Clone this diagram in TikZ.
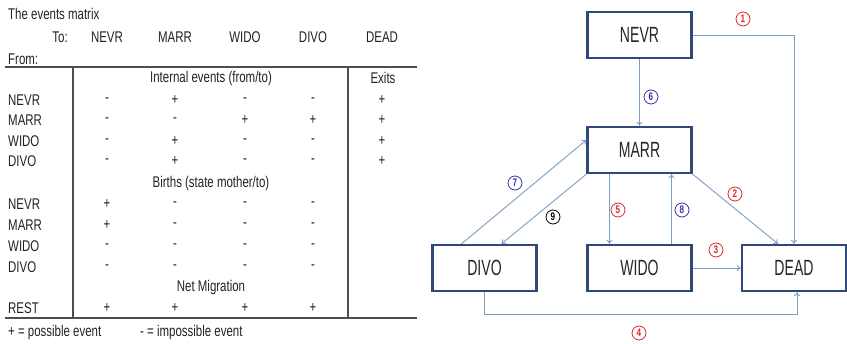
\documentclass[tikz,border=0pt]{standalone}
\usepackage{fontspec}
\setmainfont{Liberation Sans}[FakeStretch=0.74]
\newfontfamily\boxfont{Liberation Sans}[FakeStretch=0.64]
\usepackage{xcolor}
\usepackage{tikz}
\usetikzlibrary{arrows.meta, positioning}

\definecolor{boxline}{HTML}{2F4A78}
\definecolor{arrline}{HTML}{7C9CC6}
\definecolor{numred}{HTML}{E02828}
\definecolor{numblue}{HTML}{3434A8}
\definecolor{tabtext}{HTML}{222222}

\begin{document}
\begin{tikzpicture}[x=1pt, y=-1pt,
    txt/.style={font=\fontsize{15.5}{15.5}\selectfont, text=tabtext, inner sep=0pt},
    cell/.style={txt},
    rule/.style={draw=tabtext!80, line width=1.3pt},
    statebox/.style={draw=boxline, line width=2.3pt, fill=white,
        minimum width=104pt, minimum height=46pt,
        font=\boxfont\fontsize{22}{22}\selectfont, text=black!85},
    arr/.style={draw=arrline, line width=0.9pt, -{To[length=4pt, width=6pt]}},
    num/.style={circle, draw, line width=0.8pt, inner sep=0pt, minimum size=14pt,
        font=\fontsize{11}{11}\selectfont\bfseries}]
    \useasboundingbox (0,0) rectangle (847,344);

    % The events matrix
    \node[txt, anchor=west] (title) at (8,14) {The events matrix};
    \node[txt, anchor=east] (to) at (68,37) {To:};
    \node[txt, anchor=west] (from) at (8,59) {From:};
    \node[txt] (hNEVR) at (107,37) {NEVR};
    \node[txt] (hMARR) at (175,37) {MARR};
    \node[txt] (hWIDO) at (245,37) {WIDO};
    \node[txt] (hDIVO) at (313,37) {DIVO};
    \node[txt] (hDEAD) at (382,37) {DEAD};

    % Rules
    \draw[rule] (5,67) -- (417,67);
    \draw[rule] (5,318) -- (417,318);
    \draw[rule] (73,67) -- (73,318);
    \draw[rule] (348,67) -- (348,318);

    % Internal events
    \node[txt] (internal) at (211,78) {Internal events (from/to)};
    \node[txt] (exits) at (383,78) {Exits};
    \foreach \r/\y/\a/\b/\c/\d/\e in {NEVR/100/-/+/-/-/+, MARR/120/-/-/+/+/+,
        WIDO/141/-/+/-/-/+, DIVO/161/-/+/-/-/+} {
        \node[txt, anchor=west] (in-\r) at (8,\y) {\r};
        \node[cell] (in-\r-1) at (107,\y) {\a};
        \node[cell] (in-\r-2) at (175,\y) {\b};
        \node[cell] (in-\r-3) at (245,\y) {\c};
        \node[cell] (in-\r-4) at (313,\y) {\d};
        \node[cell] (in-\r-5) at (382,\y) {\e};
    }

    % Births
    \node[txt] (births) at (211,183) {Births (state mother/to)};
    \foreach \r/\y/\a/\b/\c/\d in {NEVR/204/+/-/-/-, MARR/225/+/-/-/-,
        WIDO/246/-/-/-/-, DIVO/267/-/-/-/-} {
        \node[txt, anchor=west] (bi-\r) at (8,\y) {\r};
        \node[cell] (bi-\r-1) at (107,\y) {\a};
        \node[cell] (bi-\r-2) at (175,\y) {\b};
        \node[cell] (bi-\r-3) at (245,\y) {\c};
        \node[cell] (bi-\r-4) at (313,\y) {\d};
    }

    % Net migration
    \node[txt] (netmig) at (211,287) {Net Migration};
    \node[txt, anchor=west] (rest) at (8,308) {REST};
    \foreach \x [count=\k] in {107,175,245,313}
        \node[cell] (rest-\k) at (\x,308) {+};

    % Legend
    \node[txt, anchor=west] (plus) at (8,332) {+ = possible event};
    \node[txt, anchor=west] (minus) at (140,332) {- = impossible event};

    % States
    \node[statebox] (NEVR) at (639.5,35) {NEVR};
    \node[statebox] (MARR) at (639.5,150) {MARR};
    \node[statebox] (DIVO) at (484.5,268) {DIVO};
    \node[statebox] (WIDO) at (639.5,268) {WIDO};
    \node[statebox] (DEAD) at (794,268) {DEAD};

    % Transitions
    \draw[arr] (NEVR.east) -| (DEAD.north);
    \draw[arr] (NEVR.south) -- (MARR.north);
    \draw[arr] ([xshift=-23pt]DIVO.north) -- ([yshift=10pt]MARR.west);
    \draw[arr] (MARR.south west) -- ([xshift=17pt]DIVO.north);
    \draw[arr] ([xshift=-30pt]MARR.south) -- ([xshift=-30pt]WIDO.north);
    \draw[arr] ([xshift=32pt]WIDO.north) -- ([xshift=32pt]MARR.south);
    \draw[arr] (MARR.south east) -- ([xshift=-16pt]DEAD.north);
    \draw[arr] (WIDO.east) -- (DEAD.west);
    \draw[arr] (DIVO.south) -- ++(0,22) -| ([xshift=3pt]DEAD.south);

    % Event numbers
    \node[num, numred] (n1) at (743,19) {1};
    \node[num, numred] (n2) at (735,194) {2};
    \node[num, numred] (n3) at (716,250) {3};
    \node[num, numred] (n4) at (639,333) {4};
    \node[num, numred] (n5) at (618,210) {5};
    \node[num, numblue] (n6) at (651,97) {6};
    \node[num, numblue] (n7) at (515,183) {7};
    \node[num, numblue] (n8) at (682,210) {8};
    \node[num, black] (n9) at (553,217) {9};
\end{tikzpicture}
\end{document}
